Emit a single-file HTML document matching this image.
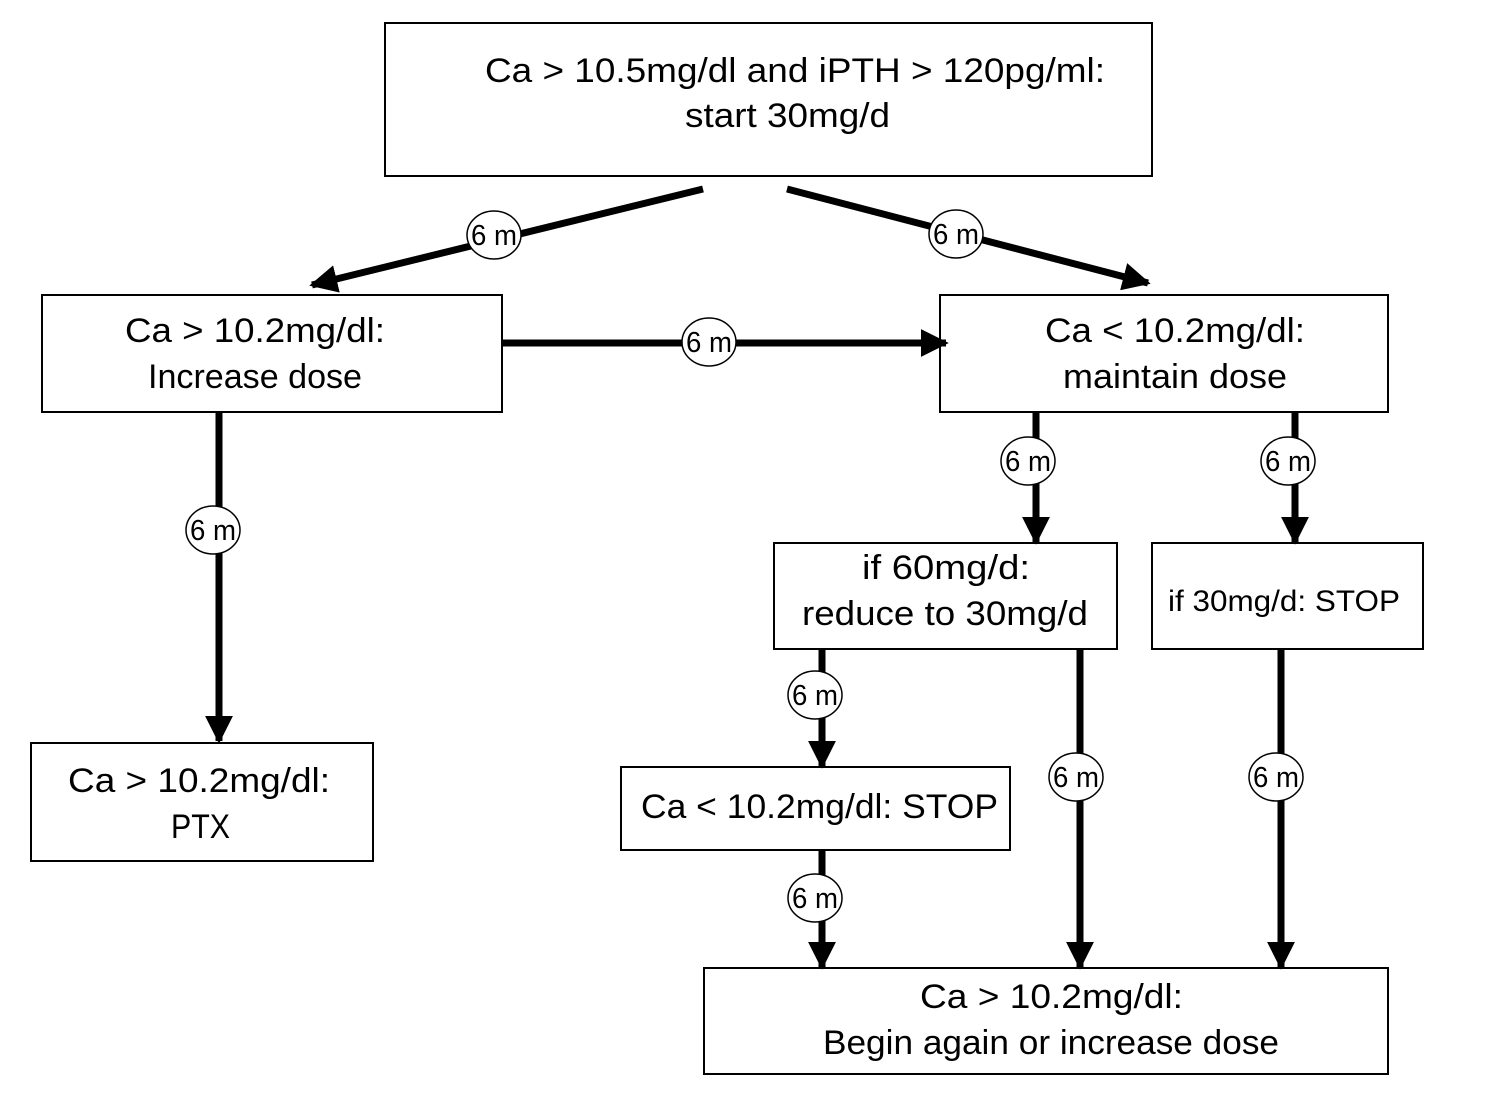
<!DOCTYPE html>
<html><head><style>html,body{margin:0;padding:0;background:#fff}svg{display:block}</style></head>
<body>
<svg width="1502" height="1096" viewBox="0 0 1502 1096" xmlns="http://www.w3.org/2000/svg">
<defs>
<marker id="ah" viewBox="0 0 10 10" refX="9" refY="5" markerWidth="4" markerHeight="4" orient="auto" markerUnits="strokeWidth">
<path d="M0,0 L10,5 L0,10 z" fill="#000"/></marker>
</defs>
<g fill="#fff" stroke="#000" stroke-width="2">
<rect x="385" y="23" width="767" height="153"/>
<rect x="42" y="295" width="460" height="117"/>
<rect x="940" y="295" width="448" height="117"/>
<rect x="31" y="743" width="342" height="118"/>
<rect x="774" y="543" width="343" height="106"/>
<rect x="1152" y="543" width="271" height="106"/>
<rect x="621" y="767" width="389" height="83"/>
<rect x="704" y="968" width="684" height="106"/>
</g>
<g stroke="#000" stroke-width="7" fill="none" marker-end="url(#ah)">
<line x1="703" y1="189" x2="312" y2="285"/>
<line x1="787" y1="189" x2="1148" y2="283"/>
<line x1="502" y1="343" x2="946" y2="343"/>
<line x1="219" y1="412" x2="219" y2="741"/>
<line x1="1036" y1="412" x2="1036" y2="542"/>
<line x1="1295" y1="412" x2="1295" y2="542"/>
<line x1="822" y1="649" x2="822" y2="766"/>
<line x1="822" y1="850" x2="822" y2="967"/>
<line x1="1080" y1="649" x2="1080" y2="967"/>
<line x1="1281" y1="649" x2="1281" y2="967"/>
</g>
<g fill="#fff" stroke="#000" stroke-width="1.5">
<ellipse cx="494" cy="235" rx="27" ry="24"/>
<ellipse cx="956" cy="234" rx="27" ry="24"/>
<ellipse cx="709" cy="342" rx="27" ry="24"/>
<ellipse cx="213" cy="530" rx="27" ry="24"/>
<ellipse cx="1028" cy="461" rx="27" ry="24"/>
<ellipse cx="1288" cy="461" rx="27" ry="24"/>
<ellipse cx="815" cy="695" rx="27" ry="24"/>
<ellipse cx="815" cy="898" rx="27" ry="24"/>
<ellipse cx="1076" cy="777" rx="27" ry="24"/>
<ellipse cx="1276" cy="777" rx="27" ry="24"/>
</g>
<g font-family="Liberation Sans, sans-serif" font-size="29" fill="#000" text-anchor="middle">
<text x="494" y="245" textLength="46" lengthAdjust="spacingAndGlyphs">6 m</text>
<text x="956" y="244" textLength="46" lengthAdjust="spacingAndGlyphs">6 m</text>
<text x="709" y="352" textLength="46" lengthAdjust="spacingAndGlyphs">6 m</text>
<text x="213" y="540" textLength="46" lengthAdjust="spacingAndGlyphs">6 m</text>
<text x="1028" y="471" textLength="46" lengthAdjust="spacingAndGlyphs">6 m</text>
<text x="1288" y="471" textLength="46" lengthAdjust="spacingAndGlyphs">6 m</text>
<text x="815" y="705" textLength="46" lengthAdjust="spacingAndGlyphs">6 m</text>
<text x="815" y="908" textLength="46" lengthAdjust="spacingAndGlyphs">6 m</text>
<text x="1076" y="787" textLength="46" lengthAdjust="spacingAndGlyphs">6 m</text>
<text x="1276" y="787" textLength="46" lengthAdjust="spacingAndGlyphs">6 m</text>
</g>
<g font-family="Liberation Sans, sans-serif" font-size="34" fill="#000">
<text x="485" y="82" textLength="620" lengthAdjust="spacingAndGlyphs">Ca &gt; 10.5mg/dl and iPTH &gt; 120pg/ml:</text>
<text x="685" y="127" textLength="205" lengthAdjust="spacingAndGlyphs">start 30mg/d</text>
<text x="125" y="342" textLength="260" lengthAdjust="spacingAndGlyphs">Ca &gt; 10.2mg/dl:</text>
<text x="148" y="388" textLength="214" lengthAdjust="spacingAndGlyphs">Increase dose</text>
<text x="1045" y="342" textLength="260" lengthAdjust="spacingAndGlyphs">Ca &lt; 10.2mg/dl:</text>
<text x="1063" y="388" textLength="224" lengthAdjust="spacingAndGlyphs">maintain dose</text>
<text x="68" y="792" textLength="262" lengthAdjust="spacingAndGlyphs">Ca &gt; 10.2mg/dl:</text>
<text x="171" y="838" textLength="59" lengthAdjust="spacingAndGlyphs">PTX</text>
<text x="862" y="579" textLength="168" lengthAdjust="spacingAndGlyphs">if 60mg/d:</text>
<text x="802" y="625" textLength="286" lengthAdjust="spacingAndGlyphs">reduce to 30mg/d</text>
<text x="1168" y="611" font-size="30" textLength="232" lengthAdjust="spacingAndGlyphs">if 30mg/d: STOP</text>
<text x="641" y="818" textLength="357" lengthAdjust="spacingAndGlyphs">Ca &lt; 10.2mg/dl: STOP</text>
<text x="920" y="1008" textLength="263" lengthAdjust="spacingAndGlyphs">Ca &gt; 10.2mg/dl:</text>
<text x="823" y="1054" textLength="456" lengthAdjust="spacingAndGlyphs">Begin again or increase dose</text>
</g>
</svg>
</body></html>
